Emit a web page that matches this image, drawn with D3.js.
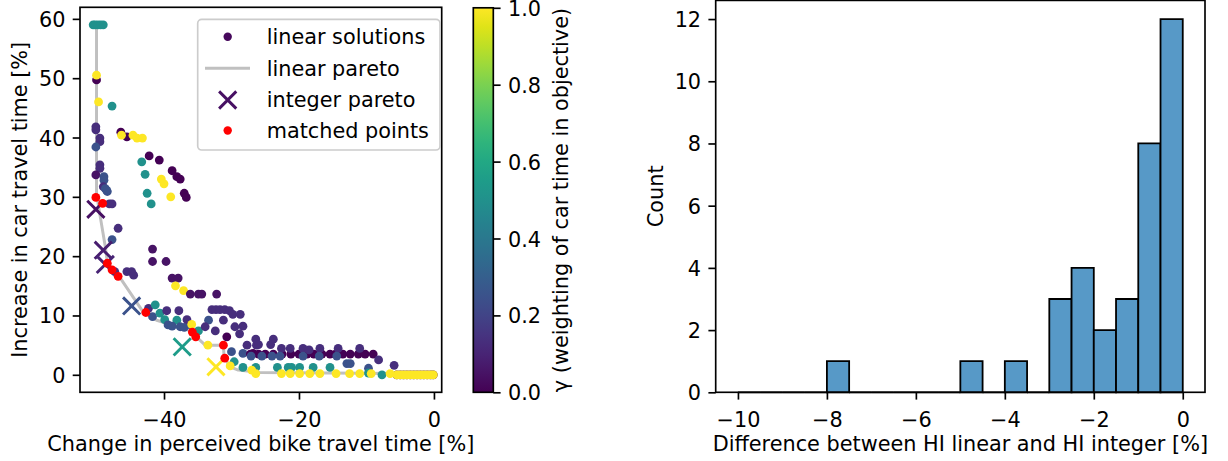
<!DOCTYPE html>
<html><head><meta charset="utf-8">
<script src="https://cdn.jsdelivr.net/npm/d3@7"></script>
<style>body{margin:0;background:#fff;} svg{display:block;} text{font-family:"DejaVu Sans",sans-serif;fill:#000;}</style>
</head><body><svg id="c" width="1228" height="461"></svg>
<script>
// ---------- DATA ----------
// linear solutions: [change in bike time %, increase in car time %, gamma]
const linearSolutions = [
 [-5.5,0,0],[-5,0,0],[-4.5,0,0],[-4,0,0],[-3.5,0,0],[-3,0,0],[-2.5,0,0],[-2,0,0],[-1.5,0,0],[-1,0,0],[-0.5,0,0],[-0.1,0,0],
 [-50.5,59,0.5],[-50.2,59,0.5],[-49.8,59,0.5],[-49.4,59,0.5],[-49.0,59,0.5],
 [-50.0,49.7,0],[-50.0,50.5,1],[-49.7,46.0,1],[-47.7,45.3,0.5],
 [-50.1,41.8,0.13],[-50.1,41.3,0.13],[-49.5,39.9,0.13],[-49.5,39.3,0.13],[-50.1,38.4,0.25],
 [-49.5,35.4,0.13],[-49.5,34.8,0.13],[-50.1,33.7,0.05],[-48.9,33.4,0.25],[-48.9,32.8,0.25],
 [-49.0,31.7,0.13],[-48.7,31.4,0.25],[-48.4,30.9,0.25],[-48.5,31.1,0.25],
 [-46.4,40.9,0],[-45.5,40.1,0],[-46.3,40.4,1],[-44.6,40.4,1],[-44.0,39.9,1],[-43.2,39.9,1],
 [-43.3,35.9,0.5],[-42.2,36.9,0],[-40.7,36.2,0],[-42.8,33.8,0.5],[-40.4,33.0,1],[-40.0,32.2,1],
 [-38.8,34.4,0],[-38.1,33.4,0],[-37.6,33.0,0],[-42.5,30.6,0.5],[-41.9,28.8,0.5],[-39.0,30.0,1],
 [-37.0,30.6,0],[-36.7,29.9,0],
 [-48.1,28.8,0.13],[-47.7,28.8,0.13],[-46.8,24.7,0.13],[-47.7,22.8,0.25],
 [-41.7,21.2,0.05],[-41.7,19.1,0.05],[-39.7,19.1,0.05],
 [-47.3,17.4,0.13],[-45.5,17.4,0.13],[-44.8,17.4,0.13],[-44.5,16.8,0.13],
 [-38.8,16.3,0.05],[-37.9,16.3,0.05],[-38.3,15.0,1],[-37.1,14.2,1],
 [-36.1,13.6,0.05],[-34.9,13.6,0.05],[-34.4,13.6,0.05],[-32.2,13.6,0.05],
 [-42.3,11.2,0.13],[-41.7,9.8,0.25],[-41.3,11.8,0.5],[-40.6,10.4,0.5],[-39.6,10.8,0.13],[-37.8,10.8,0.13],
 [-39.9,9.3,0.5],[-38.1,9.2,0.5],
 [-32.9,11.0,0.13],[-32.3,11.0,0.13],[-31.7,11.0,0.13],[-31.0,11.0,0.13],[-30.3,10.8,0.13],[-29.8,10.2,0.13],[-28.7,10.2,0.13],
 [-39.4,8.4,0.25],[-38.8,8.2,0.25],[-37.6,8.1,0.25],[-37.0,8.0,0.25],[-36.1,8.4,0.25],[-36.6,9.3,0.13],
 [-33.4,9.2,0.25],[-31.2,9.2,0.13],[-34.9,7.4,0.5],[-35.9,8.5,1],
 [-33.9,8.1,0.13],[-32.4,7.4,0.13],[-29.5,8.1,0.13],[-28.3,8.2,0.13],[-28.8,6.9,0.13],[-30.7,6.4,0],
 [-33.5,5.0,1],
 [-30.0,3.9,0.25],[-27.7,5.0,0.13],[-26.3,5.0,0.13],[-26.8,3.6,0],[-28.3,3.6,0.25],
 [-26.4,6.0,0.13],[-23.8,6.0,0.13],[-24.2,5.1,0.13],[-26.0,5.1,0.13],
 [-27.2,3.5,0],[-26.0,3.5,0],[-25.0,3.5,0],[-23.8,3.5,0],[-22.5,3.5,0],[-21.2,3.5,0],[-20.0,3.5,0],[-18.8,3.5,0],
 [-17.8,3.5,0],[-16.6,3.5,0],[-15.4,3.5,0],[-14.6,3.5,0],[-13.5,3.5,0],[-12.4,3.5,0],[-11.2,3.5,0],[-10.2,3.5,0],[-9.0,3.5,0],
 [-22.6,4.45,0.13],[-21.3,4.45,0.13],[-19.4,4.45,0.13],[-18.5,4.2,0.13],[-16.9,4.45,0.13],[-14.2,4.45,0.13],[-11.0,4.45,0.13],
 [-27.1,3.15,0.25],[-25.5,3.15,0.25],[-24.0,3.15,0.25],[-22.8,3.15,0.25],[-19.4,3.15,0.25],[-17.0,3.15,0.25],[-14.4,3.15,0.25],
 [-12.9,1.9,0.25],[-12.4,1.9,0.25],[-8.2,2.5,0.13],[-5.9,1.6,0.13],[-9.7,1.1,0.25],
 [-29.6,2.2,0.5],[-28.3,1.25,0.5],[-26.4,1.25,0.5],[-23.2,1.25,0.5],[-21.6,1.25,0.5],[-21.1,1.25,0.5],[-19.9,1.25,0.5],[-17.9,1.25,0.5],[-15.4,1.25,0.5],
 [-9.7,0.3,0.5],[-7.7,0,0.5],
 [-30.2,1.5,1],[-27.0,0.8,1],[-26.4,0.2,1],[-22.6,0.2,1],[-21.3,0.2,1],[-19.9,0.2,1],[-18.4,0.2,1],[-16.9,0.2,1],[-14.5,0.2,1],
 [-12.5,0.2,1],[-11.0,0.2,1],[-9.3,0.2,1],[-6.5,0.2,1],
 [-5.5,0,1],[-5,0,1],[-4.5,0,1],[-4,0,1],[-3.5,0,1],[-3,0,1],[-2.5,0,1],[-2,0,1],[-1.5,0,1],[-1,0,1],[-0.5,0,1],[-0.1,0,1]
];
// linear pareto front
const paretoLine = [
 [-50.0,59],[-50.0,30.5],[-49.5,27],[-48.7,21.6],[-48.4,19.0],[-46.6,16.5],[-43.1,10.6],[-41.1,9.2],[-39.6,8.7],
 [-36.1,7.4],[-35.4,6.6],[-33.9,5.0],[-31.2,5.0],[-31.1,3.0],[-30.2,1.35],[-29.0,0.8],[-25.8,0.4],[-5.5,0.2],[0,0]
];
// integer pareto: [x, y, gamma]
const integerPareto = [
 [-50.1,27.9,0.04],[-49.0,21.0,0.08],[-48.7,18.6,0.1],[-44.8,11.6,0.25],[-37.3,4.7,0.55],[-32.3,1.35,1.0]
];
// matched points
const matchedPoints = [
 [-50.1,29.9],[-49.1,28.9],[-48.4,18.8],[-47.7,17.7],[-46.8,16.6],[-42.7,10.5],[-35.8,7.2],[-35.3,6.4],[-31.2,5.0],[-31.0,2.8]
];
const scatterXTicks = [-40,-20,0];
const scatterYTicks = [0,10,20,30,40,50,60];
const cbarTicks = [0,0.2,0.4,0.6,0.8,1.0];
const legendLabels = ["linear solutions","linear pareto","integer pareto","matched points"];
// histogram
const histBinStart = -10, histBinWidth = 0.5;
const histCounts = [0,0,0,0,1,0,0,0,0,0,1,0,1,0,3,4,2,3,8,12];
const histXTicks = [-10,-8,-6,-4,-2,0];
const histYTicks = [0,2,4,6,8,10,12];

// ---------- DRAW ----------
const svg = d3.select("#c");
const FS = 20.8, TL = 7.3, LW = 1.67;
const cmap = d3.interpolateViridis;

function styleAxis(g){
  g.select(".domain").remove();
  g.selectAll(".tick line").attr("stroke","#000").attr("stroke-width",LW);
  g.selectAll(".tick text").attr("font-size",FS).attr("font-family","DejaVu Sans").attr("fill","#000");
}

// left scatter axes
const A = {x0:80, x1:441.7, y0:7.3, y1:392.3};
const x = d3.scaleLinear().domain([-52.45,1.15]).range([A.x0,A.x1]);
const y = d3.scaleLinear().domain([-2.95,61.95]).range([A.y1,A.y0]);

const gx = svg.append("g").attr("transform",`translate(0,${A.y1})`)
  .call(d3.axisBottom(x).tickValues(scatterXTicks).tickSize(TL).tickFormat(d3.format("d")));
styleAxis(gx); gx.selectAll(".tick text").attr("dy",null).attr("y",34.7);
const gy = svg.append("g").attr("transform",`translate(${A.x0},0)`)
  .call(d3.axisLeft(y).tickValues(scatterYTicks).tickSize(TL).tickPadding(TL).tickFormat(d3.format("d")));
styleAxis(gy); gy.selectAll(".tick text").attr("dy","0.36em");

const clip = svg.append("defs").append("clipPath").attr("id","clipA")
  .append("rect").attr("x",A.x0).attr("y",A.y0).attr("width",A.x1-A.x0).attr("height",A.y1-A.y0);
const plot = svg.append("g").attr("clip-path","url(#clipA)");

plot.append("path").datum(paretoLine)
  .attr("d", d3.line().x(d=>x(d[0])).y(d=>y(d[1])))
  .attr("fill","none").attr("stroke","#c0c0c0").attr("stroke-width",3).attr("stroke-linejoin","round");

plot.selectAll("circle.lin").data(linearSolutions).join("circle").attr("class","lin")
  .attr("cx",d=>x(d[0])).attr("cy",d=>y(d[1])).attr("r",4.4).attr("fill",d=>cmap(d[2]));

const xs = 8.6;
plot.selectAll("path.ip").data(integerPareto).join("path").attr("class","ip")
  .attr("d",d=>{const cx=x(d[0]),cy=y(d[1]);return `M${cx-xs},${cy-xs}L${cx+xs},${cy+xs}M${cx-xs},${cy+xs}L${cx+xs},${cy-xs}`;})
  .attr("stroke",d=>cmap(d[2])).attr("stroke-width",2.9).attr("fill","none");

plot.selectAll("circle.mp").data(matchedPoints).join("circle").attr("class","mp")
  .attr("cx",d=>x(d[0])).attr("cy",d=>y(d[1])).attr("r",4.4).attr("fill","#ff0000");

svg.append("rect").attr("x",A.x0).attr("y",A.y0).attr("width",A.x1-A.x0).attr("height",A.y1-A.y0)
  .attr("fill","none").attr("stroke","#000").attr("stroke-width",LW);

// legend
const lg = svg.append("g");
lg.append("rect").attr("x",197.7).attr("y",19.3).attr("width",242.3).attr("height",130.7).attr("rx",4)
  .attr("fill","#fff").attr("fill-opacity",0.8).attr("stroke","#cccccc").attr("stroke-width",LW);
const rowY = [36.7,68.3,100,130.5];
lg.append("circle").attr("cx",227.7).attr("cy",rowY[0]).attr("r",4.2).attr("fill",cmap(0.02));
lg.append("line").attr("x1",205).attr("x2",250).attr("y1",rowY[1]).attr("y2",rowY[1]).attr("stroke","#c0c0c0").attr("stroke-width",3);
lg.append("path").attr("d",`M${227.7-8.6},${rowY[2]-8.6}L${227.7+8.6},${rowY[2]+8.6}M${227.7-8.6},${rowY[2]+8.6}L${227.7+8.6},${rowY[2]-8.6}`)
  .attr("stroke",cmap(0.04)).attr("stroke-width",2.9);
lg.append("circle").attr("cx",227.7).attr("cy",rowY[3]).attr("r",4.2).attr("fill","#ff0000");
lg.selectAll("text").data(legendLabels).join("text").attr("x",266.7).attr("y",(d,i)=>rowY[i]).attr("dy","0.36em")
  .attr("font-size",FS).text(d=>d);

// axis labels left
svg.append("text").attr("x",A.x0+ (A.x1-A.x0)/2).attr("y",451).attr("text-anchor","middle").attr("font-size",FS)
  .text("Change in perceived bike travel time [%]");
svg.append("text").attr("transform",`translate(26.7,${(A.y0+A.y1)/2}) rotate(-90)`).attr("text-anchor","middle").attr("font-size",FS)
  .text("Increase in car travel time [%]");

// colorbar
const C = {x0:473.3, x1:493.3, y0:7.8, y1:392.3};
const grad = svg.select("defs").append("linearGradient").attr("id","vir").attr("x1",0).attr("y1",1).attr("x2",0).attr("y2",0);
d3.range(0,1.0001,0.05).forEach(t=>grad.append("stop").attr("offset",t).attr("stop-color",cmap(t)));
svg.append("rect").attr("x",C.x0).attr("y",C.y0).attr("width",C.x1-C.x0).attr("height",C.y1-C.y0)
  .attr("fill","url(#vir)").attr("stroke","#000").attr("stroke-width",LW);
const cy = d3.scaleLinear().domain([0,1]).range([C.y1,C.y0]);
const gc = svg.append("g").attr("transform",`translate(${C.x1},0)`)
  .call(d3.axisRight(cy).tickValues(cbarTicks).tickSize(TL).tickPadding(TL).tickFormat(d3.format(".1f")));
styleAxis(gc); gc.selectAll(".tick text").attr("dy","0.36em");
svg.append("text").attr("transform",`translate(568,${(C.y0+C.y1)/2}) rotate(-90)`).attr("text-anchor","middle").attr("font-size",FS)
  .text("γ (weighting of car time in objective)");

// histogram
const B = {x0:715.7, x1:1205, y0:0.4, y1:392.3};
const hx = d3.scaleLinear().domain([-10.5,0.5]).range([B.x0,B.x1]);
const hy = d3.scaleLinear().domain([0,12.6]).range([B.y1,B.y0]);
const bins = histCounts.map((c,i)=>({x0:histBinStart+i*histBinWidth, x1:histBinStart+(i+1)*histBinWidth, c}));
svg.append("g").selectAll("path").data(bins).join("path")
  .attr("d",d=>`M${hx(d.x0)},${hy(0)}V${hy(d.c)}H${hx(d.x1)}V${hy(0)}Z`)
  .attr("fill","#5799c7").attr("stroke","#000").attr("stroke-width",1.8).attr("stroke-linejoin","miter");
svg.append("rect").attr("x",B.x0).attr("y",B.y0).attr("width",B.x1-B.x0).attr("height",B.y1-B.y0)
  .attr("fill","none").attr("stroke","#000").attr("stroke-width",LW);
const hgx = svg.append("g").attr("transform",`translate(0,${B.y1})`)
  .call(d3.axisBottom(hx).tickValues(histXTicks).tickSize(TL).tickFormat(d3.format("d")));
styleAxis(hgx); hgx.selectAll(".tick text").attr("dy",null).attr("y",34.7);
const hgy = svg.append("g").attr("transform",`translate(${B.x0},0)`)
  .call(d3.axisLeft(hy).tickValues(histYTicks).tickSize(TL).tickPadding(TL).tickFormat(d3.format("d")));
styleAxis(hgy); hgy.selectAll(".tick text").attr("dy","0.36em");
svg.append("text").attr("x",(B.x0+B.x1)/2).attr("y",451).attr("text-anchor","middle").attr("font-size",FS)
  .text("Difference between HI linear and HI integer [%]");
svg.append("text").attr("transform",`translate(662.7,${(B.y0+B.y1)/2}) rotate(-90)`).attr("text-anchor","middle").attr("font-size",FS)
  .text("Count");
</script></body></html>
